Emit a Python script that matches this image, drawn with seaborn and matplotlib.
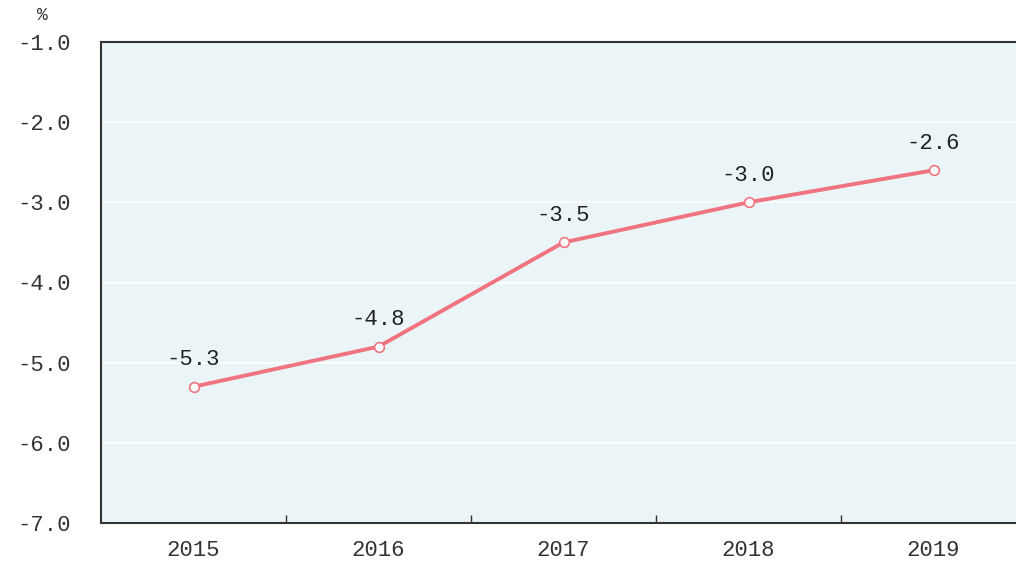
import matplotlib
matplotlib.use("Agg")
import matplotlib.pyplot as plt
import seaborn as sns
import pandas as pd

years = ["2015", "2016", "2017", "2018", "2019"]
values = [-5.3, -4.8, -3.5, -3.0, -2.6]
y_ticks = [-1.0, -2.0, -3.0, -4.0, -5.0, -6.0, -7.0]

df = pd.DataFrame({"year": years, "value": values})

sns.set_theme(style="white")
plt.rcParams["font.family"] = ["Liberation Mono", "DejaVu Sans"]

fig = plt.figure(figsize=(10.16, 5.69), dpi=100)
ax = fig.add_axes([101 / 1016, 1 - 523 / 569, 925 / 1016, 481 / 569])
ax.set_facecolor("#ebf5f8")

sns.lineplot(data=df, x="year", y="value", ax=ax, color="#f07480", linewidth=2.8,
             marker="o", markersize=7, markerfacecolor="white",
             markeredgecolor="#f07480", markeredgewidth=1.2, sort=False)

for i, v in enumerate(values):
    ax.annotate(f"{v:.1f}", (i, v), xytext=(0, 12), textcoords="offset points",
                ha="center", va="bottom", fontsize=16, color="#222222")

ax.set_xlim(-0.5, len(years) - 0.5)
ax.set_ylim(-7.0, -1.0)
ax.set_yticks(y_ticks)
ax.set_yticklabels([f"{t:.1f}" for t in y_ticks], fontsize=16, color="#333333")
ax.set_xticks(range(len(years)))
ax.set_xticklabels(years, fontsize=16, color="#333333")
ax.tick_params(axis="x", length=0, pad=12)
ax.tick_params(axis="y", length=0, pad=22)
ax.set_xticks([i + 0.5 for i in range(len(years) - 1)], minor=True)
ax.tick_params(axis="x", which="minor", direction="in", length=6, width=1, color="#333333", bottom=True)
ax.yaxis.grid(True, color="white", linewidth=1.2)
ax.set_xlabel("")
ax.set_ylabel("")

for side in ["left", "top", "bottom"]:
    ax.spines[side].set_visible(True)
    ax.spines[side].set_color("#333333")
    ax.spines[side].set_linewidth(1.5)
ax.spines["right"].set_visible(False)

fig.text(42 / 1016, 1 - 16 / 569, "%", ha="center", va="center", fontsize=13, color="#333333")

fig.savefig("out.png", dpi=100)
